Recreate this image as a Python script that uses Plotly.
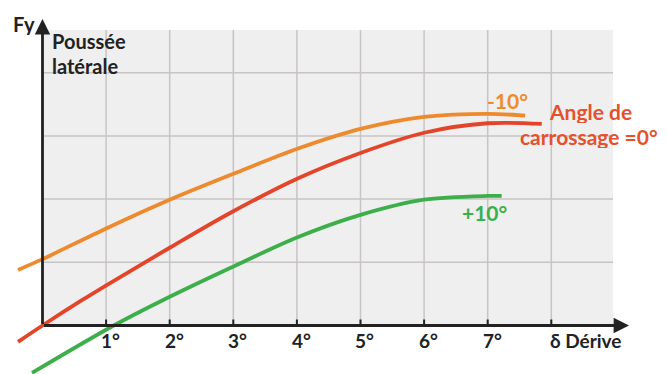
import plotly.graph_objects as go

# ---- data (x: drift angle in degrees, y: lateral force in grid units)
x_minus10 = [-0.385, 0.0, 1.01, 2.0, 2.95, 4.02, 5.0, 6.0, 7.0, 7.59]
y_minus10 = [0.88, 1.05, 1.54, 1.99, 2.38, 2.80, 3.11, 3.30, 3.35, 3.32]

x_zero = [-0.385, 0.0, 0.62, 1.01, 2.0, 2.95, 4.02, 5.0, 6.0, 7.0, 7.85]
y_zero = [-0.26, 0.0, 0.40, 0.64, 1.23, 1.78, 2.33, 2.73, 3.05, 3.20, 3.19]

x_plus10 = [-0.165, 1.12, 1.89, 2.95, 4.02, 5.0, 6.0, 7.0, 7.22]
y_plus10 = [-0.75, 0.0, 0.40, 0.91, 1.40, 1.75, 1.99, 2.05, 2.05]

tick_values = [1, 2, 3, 4, 5, 6, 7]
tick_labels = ["1°", "2°", "3°", "4°", "5°", "6°", "7°"]
grid_x = [1, 2, 3, 4, 5, 6, 7, 8]
grid_y = [1, 2, 3, 4]

# ---- layout geometry (page pixels of the reference)
X0_PX, Y0_PX, UX, UY = 42.5, 325.5, 63.6, 63.2
W, H = 667, 374
PAGE_OFF = 8  # default body margin of the html page


def dx(px):
    return (px - X0_PX) / UX


def dy(py):
    return (Y0_PX - py) / UY


XMIN, XMAX = dx(PAGE_OFF), dx(W + PAGE_OFF)
YMIN, YMAX = dy(H + PAGE_OFF), dy(PAGE_OFF)
BG_R, BG_T = dx(613), dy(30)

ORANGE = "#EE8A2E"
RED = "#E2452A"
GREEN = "#3DAF4A"
FONT = "Lato"

fig = go.Figure()
for xs, ys, c in [(x_minus10, y_minus10, ORANGE), (x_zero, y_zero, RED), (x_plus10, y_plus10, GREEN)]:
    fig.add_trace(go.Scatter(x=xs, y=ys, mode="lines",
                             line=dict(color=c, width=3.8, shape="spline", smoothing=0.9),
                             hoverinfo="skip", showlegend=False))

shapes = [dict(type="rect", xref="x", yref="y", x0=0, x1=BG_R, y0=0, y1=BG_T,
               fillcolor="#EFEFEF", line=dict(width=0), layer="below")]
for gx in grid_x:
    shapes.append(dict(type="line", xref="x", yref="y", x0=gx, x1=gx, y0=0, y1=BG_T,
                       line=dict(color="#C9C4C4", width=1.5), layer="below"))
    shapes.append(dict(type="line", xref="x", yref="y", x0=gx, x1=gx, y0=0, y1=dy(Y0_PX - 6),
                       line=dict(color="#222222", width=2)))
for gy in grid_y:
    shapes.append(dict(type="line", xref="x", yref="y", x0=0, x1=BG_R, y0=gy, y1=gy,
                       line=dict(color="#C9C4C4", width=1.5), layer="below"))

annotations = [
    # axes with arrows
    dict(x=dx(629), y=0, ax=0, ay=0, xref="x", yref="y", axref="x", ayref="y", text="",
         showarrow=True, arrowhead=2, arrowsize=1.1, arrowwidth=2.8, arrowcolor="#222222"),
    dict(x=0, y=dy(19), ax=0, ay=0, xref="x", yref="y", axref="x", ayref="y", text="",
         showarrow=True, arrowhead=2, arrowsize=1.1, arrowwidth=2.8, arrowcolor="#222222"),
]
for v, lab in zip(tick_values, tick_labels):
    annotations.append(dict(x=v + 0.07, y=dy(340), xref="x", yref="y", text=lab, showarrow=False,
                            font=dict(family=FONT, size=19, color="#222222"), xanchor="center", yanchor="middle"))

annotations += [
    dict(x=dx(586), y=dy(340), text="δ Dérive", font=dict(family=FONT, size=19, color="#222222")),
    dict(x=dx(24), y=dy(23), text="Fy", font=dict(family=FONT, size=20, color="#222222")),
    dict(x=dx(51), y=dy(40), text="Poussée", xanchor="left", font=dict(family=FONT, size=20, color="#222222")),
    dict(x=dx(51), y=dy(65), text="latérale", xanchor="left", font=dict(family=FONT, size=20, color="#222222")),
    dict(x=dx(507), y=dy(100), text="-10°", font=dict(family=FONT, size=21, color=ORANGE)),
    dict(x=dx(590), y=dy(111), text="Angle de", font=dict(family=FONT, size=21, color="#E4522D")),
    dict(x=dx(519), y=dy(136.5), text="carrossage =0°", xanchor="left", font=dict(family=FONT, size=21, color="#E4522D")),
    dict(x=dx(484), y=dy(212), text="+10°", font=dict(family=FONT, size=21, color=GREEN)),
]
for a in annotations[len(tick_values) + 2:]:
    a.setdefault("xref", "x")
    a.setdefault("yref", "y")
    a.setdefault("showarrow", False)
    a.setdefault("yanchor", "middle")
    a["text"] = "<b>" + a["text"] + "</b>"
    a["height"] = 23
    a["borderpad"] = 0
for a in annotations[2:2 + len(tick_values)]:
    a["text"] = "<b>" + a["text"] + "</b>"

fig.update_layout(
    width=W, height=H, margin=dict(l=0, r=0, t=0, b=0),
    paper_bgcolor="white", plot_bgcolor="white",
    xaxis=dict(range=[XMIN, XMAX], visible=False, fixedrange=True),
    yaxis=dict(range=[YMIN, YMAX], visible=False, fixedrange=True),
    shapes=shapes, annotations=annotations, showlegend=False,
)
fig.write_html("out.html")
